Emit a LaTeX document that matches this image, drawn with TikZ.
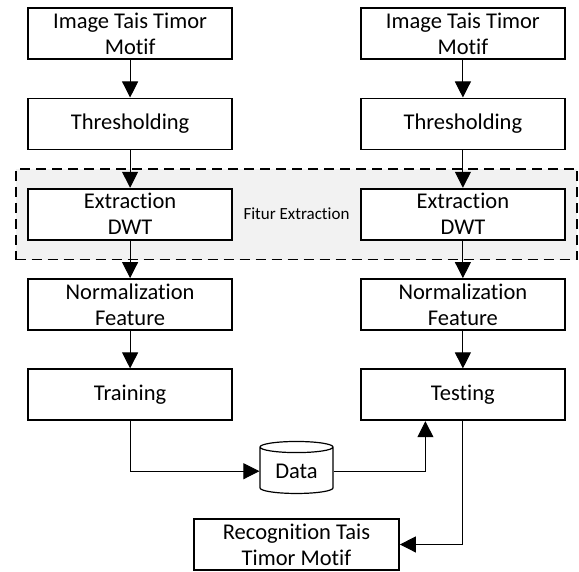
\documentclass[tikz,border=0pt]{standalone}
\usepackage{fontspec}
\setmainfont[Ligatures={NoCommon}]{Carlito}
\usetikzlibrary{matrix,arrows.meta,positioning,shapes.geometric,fit,backgrounds,calc}

\tikzset{
  box/.style={draw, line width=1.8pt, fill=white, minimum width=204pt, minimum height=51pt,
    inner sep=1pt, align=center, font=\fontsize{22.5}{26}\selectfont},
  store/.style={cylinder, shape border rotate=90, draw, line width=1.2pt, fill=white, aspect=0.25,
    minimum width=73pt, minimum height=52pt, inner sep=1pt, font=\fontsize{22.5}{26}\selectfont},
  region/.style={draw, line width=1.8pt, dash pattern=on 10pt off 6pt, fill=black!5},
  flow/.style={-{Triangle[length=16pt,width=16pt]}, line width=1pt}
}

\begin{document}
\begin{tikzpicture}[x=1pt,y=1pt]
  \useasboundingbox (0,0) rectangle (579,-572);
  \matrix (m) [row sep=37.5pt, column sep=127pt, anchor=north west, inner sep=0pt] at (27,-7)
  {
\node[box] (img1) {Image Tais Timor\\Motif}; & \node[box] (img2) {Image Tais Timor\\Motif}; \\
\node[box] (thr1) {Thresholding}; & \node[box] (thr2) {Thresholding}; \\
\node[box] (dwt1) {Extraction\\DWT}; & \node[box] (dwt2) {Extraction\\DWT}; \\
\node[box] (norm1) {Normalization\\Feature}; & \node[box] (norm2) {Normalization\\Feature}; \\
\node[box] (train) {Training}; & \node[box] (test) {Testing}; \\
};
  \begin{scope}[on background layer]
    \node (fe) [region, fit=(dwt1)(dwt2), inner xsep=11.5pt, inner ysep=19pt] {};
  \end{scope}
  \node (fitur) at ($(dwt1)!0.5!(dwt2)$) {\fontsize{17}{20}\selectfont Fitur Extraction};
  \node (data) [store] at ($(train.south)!0.5!(test.south)+(0,-50)$) {Data};
  \node (rec) [box, minimum width=205pt, below=24pt of data] {Recognition Tais\\Timor Motif};
  \path[flow]
  (img1) edge (thr1)
  (thr1) edge (dwt1)
  (dwt1) edge (norm1)
  (norm1) edge (train)
  (img2) edge (thr2)
  (thr2) edge (dwt2)
  (dwt2) edge (norm2)
  (norm2) edge (test)
  ;
  \draw[flow] (train.south) |- (data.west);
  \draw[flow] (data.east) -| ([xshift=-37.5pt]test.south);
  \draw[flow] (test.south) |- (rec.east);
\end{tikzpicture}
\end{document}
